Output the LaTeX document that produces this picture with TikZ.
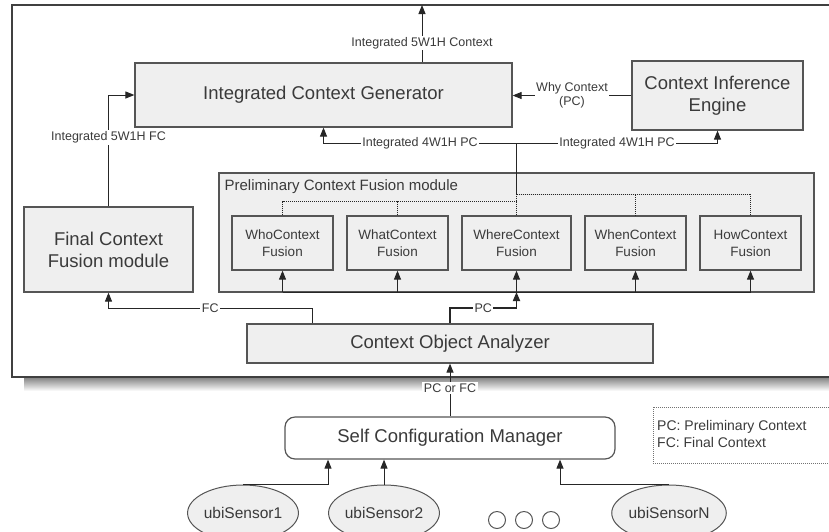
\documentclass[tikz,border=0pt]{standalone}
\usepackage{fontspec}
\setmainfont{Liberation Sans}
\usetikzlibrary{arrows.meta, positioning, shapes.geometric}

\definecolor{boxfill}{HTML}{EFEFEF}
\definecolor{boxline}{HTML}{555555}
\definecolor{txt}{HTML}{3A3A3A}
\definecolor{shade}{HTML}{CCCCCC}

\begin{document}
\begin{tikzpicture}[
    x=1pt, y=-1pt,
    every node/.style={text=txt, inner sep=0pt},
    box/.style   ={rectangle, draw=boxline, line width=1.2pt, fill=boxfill, align=center},
    big/.style   ={font=\fontsize{18.5}{22}\selectfont},
    fus/.style   ={box, minimum height=54pt, font=\fontsize{13.5}{17}\selectfont},
    lbl/.style   ={font=\fontsize{12.5}{14}\selectfont, fill=white, inner sep=1.5pt, align=center},
    arr/.style   ={draw=black!85, line width=1pt, -{Triangle[length=9pt,width=7pt]}},
    link/.style  ={draw=black!85, line width=1pt},
    dots/.style  ={draw=black!85, line width=1pt, densely dotted},
    sensor/.style={ellipse, draw=boxline, line width=1pt, fill=boxfill,
                   minimum width=97pt, minimum height=56pt, font=\fontsize{15.5}{18}\selectfont}
]
\useasboundingbox (0,0) rectangle (829,531);

% frame with shadow
\fill[shade] (24,377) rectangle (840,391);
\draw[line width=1.5pt, draw=black!75, fill=white] (12,5) rectangle (840,377);

% main blocks
\node[box, big, minimum width=377pt, minimum height=64pt] (icg) at (323.5,95) {Integrated Context Generator};
\node[box, big, minimum width=171pt, minimum height=69pt] (cie) at (717.5,95.5) {Context Inference\\Engine};
\node[box, minimum width=595pt, minimum height=119pt] (pcf) at (516.5,232.5) {};
\node[anchor=west, font=\fontsize{15}{18}\selectfont] (pcftitle)
    at ([xshift=6pt,yshift=-14pt]pcf.north west) {Preliminary Context Fusion module};
\foreach \fid/\fx/\fw/\fword in {who/282.5/101/Who, what/397.5/101/What, where/516.5/109/Where,
                                when/635.5/101/When, how/750.5/101/How}
    \node[fus, minimum width=\fw pt] (\fid) at (\fx,243) {\fword Context\\Fusion};
\node[box, big, minimum width=169pt, minimum height=85pt] (fcf) at (108.5,249.5) {Final Context\\Fusion module};
\node[box, big, minimum width=406pt, minimum height=39pt] (coa) at (450,343.5) {Context Object Analyzer};
\node[box, big, fill=white, rounded corners=10pt, minimum width=330pt, minimum height=42pt] (scm)
    at (450,438) {Self Configuration Manager};

% sensors
\node[sensor] (s1) at (243,513) {ubiSensor1};
\node[sensor] (s2) at (384,513) {ubiSensor2};
\node[sensor] (sN) at (669,513) {ubiSensorN};
\foreach \cx [count=\i] in {497,524,551}
    \node[circle, draw=boxline, line width=1pt, minimum size=17pt] (dot\i) at (\cx,520) {};

% legend
\draw[dots, line width=0.8pt, draw=black!55] (653,407) rectangle (840,463);
\node[anchor=west, font=\fontsize{14}{16}\selectfont] (legpc) at (657,427) {PC: Preliminary Context};
\node[anchor=west, font=\fontsize{14}{16}\selectfont] (legfc) at (657,442) {FC: Final Context};

% helper points
\coordinate (topout) at (422,5);
\coordinate (hub)    at (516.5,143);
\coordinate (split)  at (516.5,194);
\coordinate (lsplit) at (516.5,201);
\coordinate (bus)    at (516.5,292);
\coordinate (pcturn) at (516.5,308);
\coordinate (fcx)    at (312,0);

% upper connectors
\draw[arr] (icg.north -| topout) -- node[lbl, pos=0.34] {Integrated 5W1H Context} (topout);
\draw[arr] (cie.west) -- node[lbl] {Why Context\\(PC)} (cie.west -| icg.east);
\draw[arr] (hub) -| node[lbl, pos=0.25] {Integrated 4W1H PC} (icg.south);
\draw[arr] (hub) -| node[lbl, pos=0.25] {Integrated 4W1H PC} (cie.south);
\draw[link] (split) -- (hub);
\draw[dots] (where.north) -- (split);
\draw[dots] (split) -| (when.north);
\draw[dots] (split) -| (how.north);
\draw[dots] (who.north) |- (lsplit);
\draw[dots] (what.north) -- (what.north |- lsplit);
\draw[arr] (fcf.north) |- node[lbl, pos=0.31] {Integrated 5W1H FC} (icg.west);

% fusion bus
\draw[link] (who.south |- bus) -- (how.south |- bus);
\foreach \fid in {who,what,where,when,how}
    \draw[arr] (\fid.south |- bus) -- (\fid.south);

% analyzer outputs
\draw[arr, line width=1.7pt] (coa.north) |- node[lbl, pos=0.75] {PC} (pcturn) -- (bus);
\draw[arr] (fcx |- coa.north) -- (fcx |- pcturn) -| node[lbl, pos=0.25] {FC} (fcf.south);
\draw[arr] (scm.north) -- node[lbl, pos=0.54] {PC or FC} (coa.south);

% sensor inputs
\draw[arr] (s1.north) -| ([xshift=-122pt]scm.south);
\draw[arr] (s2.north) -- (s2.north |- scm.south);
\draw[arr] (sN.north) -| ([xshift=110pt]scm.south);
\end{tikzpicture}
\end{document}
